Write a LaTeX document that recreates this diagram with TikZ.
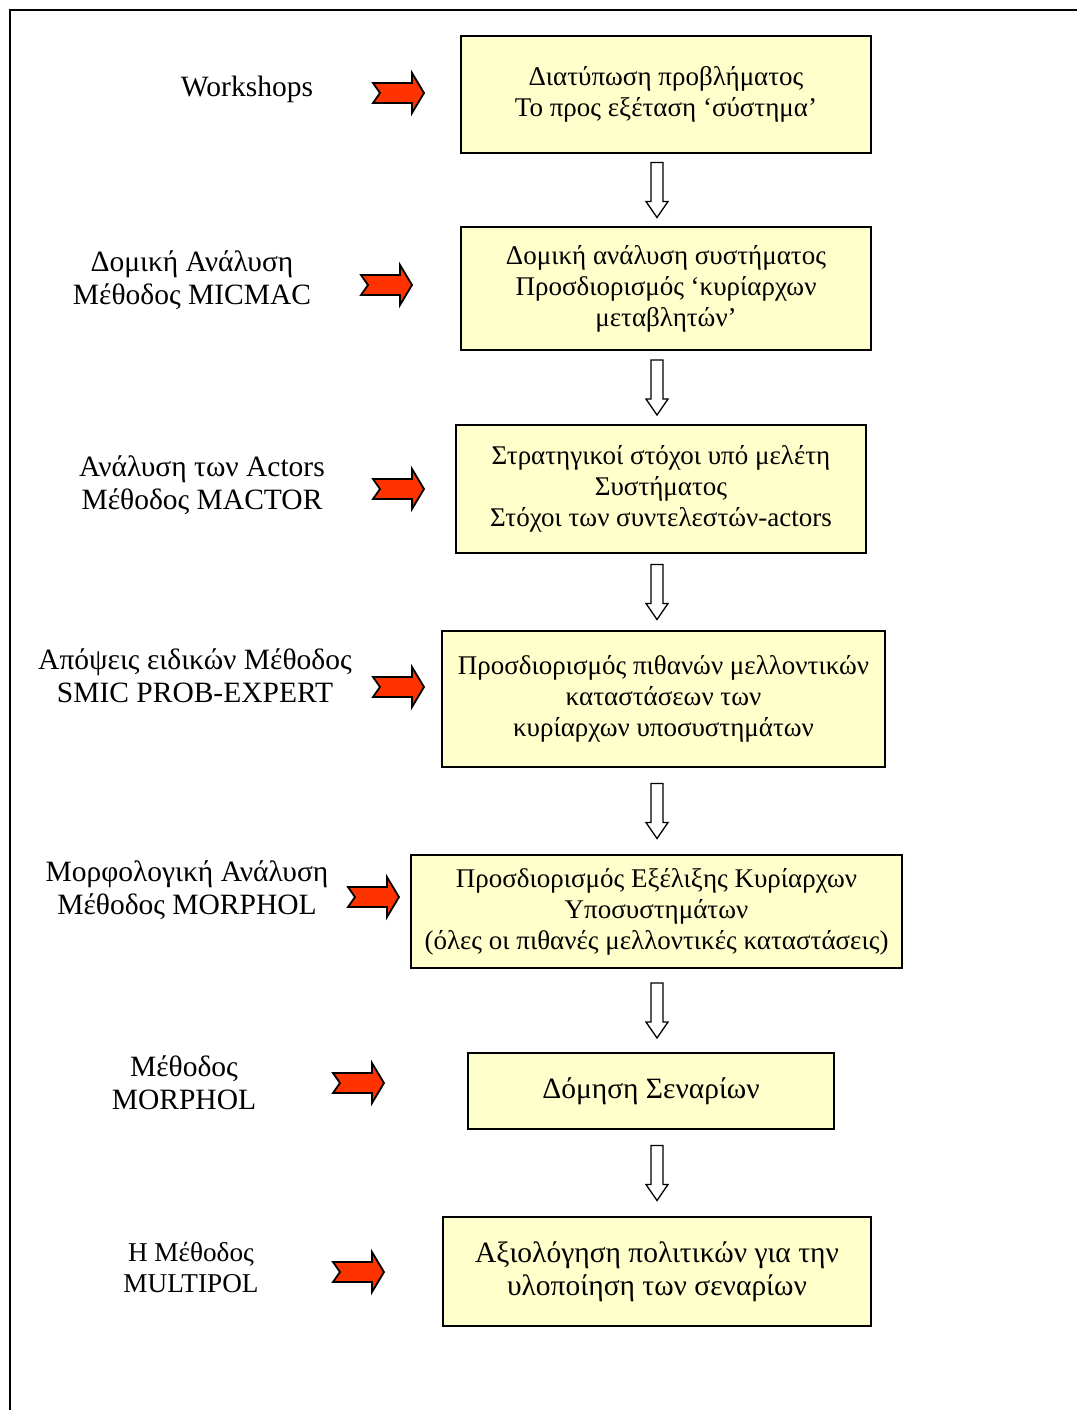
\documentclass[tikz,border=0pt]{standalone}
\usepackage{fontspec}
\setmainfont{Liberation Serif}
\usepackage{tikz}
\usetikzlibrary{positioning, calc}
\definecolor{boxfill}{HTML}{FFFFCC}
\definecolor{arrowred}{HTML}{FF3300}
\tikzstyle{block} = [rectangle, draw, line width=1.6pt, fill=boxfill, align=center, inner sep=0pt, font=\fontsize{27}{31}\selectfont]
\tikzstyle{bigblock} = [block, font=\fontsize{29.5}{33}\selectfont]
\tikzstyle{method} = [align=center, font=\fontsize{29.5}{33}\selectfont]
\tikzstyle{hollow} = [draw, line width=1.3pt, fill=white, line join=miter]
\tikzstyle{frame} = [line width=2pt]
\tikzset{
  redarrow/.pic={
    \draw[line width=1.8pt, fill=arrowred, line join=miter] (0,-10) -- (39,-10) -- (39,-20) -- (51,0) -- (39,20) -- (39,10) -- (0,10) -- (7,0) -- cycle;
  }
}
% hollow down arrow, 55pt long, centred in the gap between two boxes
\newcommand{\hollowdown}[2]{%
  \path ($(#1.south -| axis)!0.5!(#2.north -| axis)$) coordinate (hm);
  \path ([yshift=27.5pt]hm) coordinate (ha) ([yshift=-27.5pt]hm) coordinate (hb);
  \draw[hollow] ([xshift=-6pt]ha) -- ([xshift=-6pt,yshift=16pt]hb) -- ([xshift=-11pt,yshift=16pt]hb) -- (hb) -- ([xshift=11pt,yshift=16pt]hb) -- ([xshift=6pt,yshift=16pt]hb) -- ([xshift=6pt]ha) -- cycle;
}

\begin{document}
\begin{tikzpicture}[x=1pt, y=-1pt]
        \useasboundingbox (0,0) rectangle (1076,1410);
        \draw[frame] (10,1412) -- (10,10) -- (1078,10);
        \coordinate (axis) at (657,0);

        % Main chain of boxes
        \node (problem) [block, minimum width=410pt, minimum height=117pt] at (666,94.5) {Διατύπωση προβλήματος\\Το προς εξέταση ‘σύστημα’};
        \node (structure) [block, minimum width=410pt, minimum height=123pt] at (666,288.5) {Δομική ανάλυση συστήματος\\Προσδιορισμός ‘κυρίαρχων\\μεταβλητών’};
        \node (goals) [block, minimum width=410pt, minimum height=128pt] at (661,489) {Στρατηγικοί στόχοι υπό μελέτη\\Συστήματος\\Στόχοι των συντελεστών-actors};
        \node (states) [block, minimum width=443pt, minimum height=136pt] at (663.5,699) {Προσδιορισμός πιθανών μελλοντικών\\καταστάσεων των\\κυρίαρχων υποσυστημάτων};
        \node (evolution) [block, minimum width=491pt, minimum height=113pt] at (656.5,911.5) {Προσδιορισμός Εξέλιξης Κυρίαρχων\\Υποσυστημάτων\\(όλες οι πιθανές μελλοντικές καταστάσεις)};
        \node (scenarios) [bigblock, minimum width=366pt, minimum height=76pt] at (651,1091) {Δόμηση Σεναρίων};
        \node (policies) [bigblock, minimum width=428pt, minimum height=109pt] at (657,1271.5) {Αξιολόγηση πολιτικών για την\\υλοποίηση των σεναρίων};

        % Methods on the left
        \node (workshops) [method] at (247,89) {Workshops};
        \node (micmac) [method] at (192,280) {Δομική Ανάλυση\\Μέθοδος MICMAC};
        \node (mactor) [method] at (202,485) {Ανάλυση των Actors\\Μέθοδος MACTOR};
        \node (smic) [method] at (195,676) {Απόψεις ειδικών Μέθοδος\\SMIC PROB-EXPERT};
        \node (morphol) [method] at (187,890) {Μορφολογική Ανάλυση\\Μέθοδος MORPHOL};
        \node (morphol2) [method] at (184,1083) {Μέθοδος\\MORPHOL};
        \node (multipol) [method, font=\fontsize{27.2}{31}\selectfont] at (191,1268) {Η Μέθοδος\\MULTIPOL};

        % Red arrows from the methods
        \pic at (373,93) {redarrow};
        \pic at (361,285) {redarrow};
        \pic at (373,489) {redarrow};
        \pic at (373,687) {redarrow};
        \pic at (348,897) {redarrow};
        \pic at (333,1083) {redarrow};
        \pic at (333,1272) {redarrow};

        % Hollow arrows down the chain
        \hollowdown{problem}{structure}
        \hollowdown{structure}{goals}
        \hollowdown{goals}{states}
        \hollowdown{states}{evolution}
        \hollowdown{evolution}{scenarios}
        \hollowdown{scenarios}{policies}

\end{tikzpicture}
\end{document}
